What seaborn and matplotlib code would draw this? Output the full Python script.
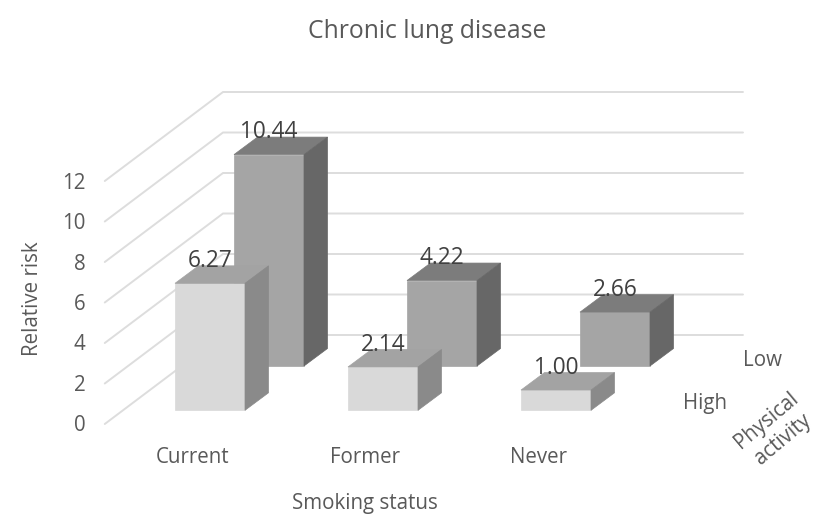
import matplotlib
matplotlib.use('Agg')
import matplotlib.pyplot as plt
import pandas as pd
import seaborn as sns
from matplotlib.patches import Polygon

# chart values
smoking_status = ['Current', 'Former', 'Never']
high_activity = [6.27, 2.14, 1.00]
low_activity = [10.44, 4.22, 2.66]
risk_ticks = [0, 2, 4, 6, 8, 10, 12]
depth_labels = ['High', 'Low']

sns.set_style('white')
plt.rcParams['font.family'] = ['Open Sans', 'DejaVu Sans']

W, H = 821, 518
CAT_PX = 173.0     # pixels per category
VAL_PX = 20.25     # pixels per risk unit
DEPTH_X = 23.5 / CAT_PX   # bar depth in data units
DEPTH_Y = 17.5 / VAL_PX
GREY = '#595959'
FS = 14.8

fig = plt.figure(figsize=(W / 100, H / 100), dpi=100)


def plane(x0, y0):
    # full figure axes with category 0 / risk 0 at pixel (x0, y0)
    ax = fig.add_axes([0, 0, 1, 1], facecolor='none')
    ax.set_xlim(-x0 / CAT_PX, (W - x0) / CAT_PX)
    ax.set_ylim((y0 - H) / VAL_PX, y0 / VAL_PX)
    ax.set_axis_off()
    return ax


def draw_row(x0, y0, values, front, top, side):
    df = pd.DataFrame({'status': smoking_status, 'risk': values})
    ax = plane(x0, y0)
    xlim, ylim = ax.get_xlim(), ax.get_ylim()
    sns.barplot(data=df, x='status', y='risk', color=front, saturation=1,
                width=70 / CAT_PX, ax=ax, edgecolor=front, linewidth=0.5)
    ax.set_xlim(xlim)
    ax.set_ylim(ylim)
    ax.set_axis_off()
    for bar in ax.patches:
        x1 = bar.get_x()
        x2 = x1 + bar.get_width()
        h = bar.get_height()
        ax.add_patch(Polygon([(x1, h), (x2, h), (x2 + DEPTH_X, h + DEPTH_Y),
                              (x1 + DEPTH_X, h + DEPTH_Y)], color=top, lw=0.5))
        ax.add_patch(Polygon([(x2, 0), (x2 + DEPTH_X, DEPTH_Y),
                              (x2 + DEPTH_X, h + DEPTH_Y), (x2, h)], color=side, lw=0.5))
    ax.bar_label(ax.containers[0], fmt='%.2f', padding=7.5, fontsize=16.3,
                 color='#404040', zorder=10)
    return ax


# walls: back wall runs over the three categories, side wall comes forward
wall = fig.add_axes([223 / W, 1 - 335 / H, 520 / W, 12 * VAL_PX / H], facecolor='none')
wall.set_xlim(0, 3)
wall.set_ylim(0, 12)
wall.set_axis_off()
for v in risk_ticks:
    wall.plot([-118 / CAT_PX, 0, 3], [v - 89 / VAL_PX, v, v], color='#DDDDDD',
              lw=1.4, clip_on=False, solid_joinstyle='miter')

draw_row(210 + 59.5 - 0.5, 366, low_activity, '#A5A5A5', '#7C7C7C', '#676767')
draw_row(175 + 35, 410.3, high_activity, '#D9D9D9', '#A3A3A3', '#8A8A8A')

# axis text
tick_ax = fig.add_axes([105 / W, 1 - 423 / H, 638 / W, 242 / H], facecolor='none')
tick_ax.set_xlim((105 - 192.5) / CAT_PX, (743 - 192.5) / CAT_PX)
tick_ax.set_ylim(0, 12)
sns.despine(ax=tick_ax, left=True, bottom=True)
tick_ax.set_xticks(range(3), smoking_status)
tick_ax.set_yticks(risk_ticks)
tick_ax.tick_params(axis='x', length=0, pad=17, labelsize=FS, labelcolor=GREY)
tick_ax.tick_params(axis='y', length=0, pad=14, labelsize=FS, labelcolor=GREY)
tick_ax.set_xlabel('Smoking status', fontsize=FS, color=GREY, va='center')
tick_ax.xaxis.set_label_coords((365 - 105) / 638, -(501 - 421) / 242)
tick_ax.set_ylabel('Relative risk', fontsize=FS, color=GREY, va='center')
tick_ax.yaxis.set_label_coords((33 - 105) / 638, (421 - 297) / 242)

fig.suptitle('Chronic lung disease', x=427 / W, y=1 - 32 / H, va='center',
             fontsize=17.8, color=GREY)
fig.text(705 / W, 1 - 404 / H, depth_labels[0], ha='center', va='center', fontsize=FS, color=GREY)
fig.text(762 / W, 1 - 361 / H, depth_labels[1], ha='center', va='center', fontsize=FS, color=GREY)
fig.text(775 / W, 1 - 430 / H, 'Physical\nactivity', ha='center', va='center', rotation=40,
         multialignment='center', fontsize=FS, color=GREY, linespacing=1.25)

fig.savefig('out.png', dpi=100)
